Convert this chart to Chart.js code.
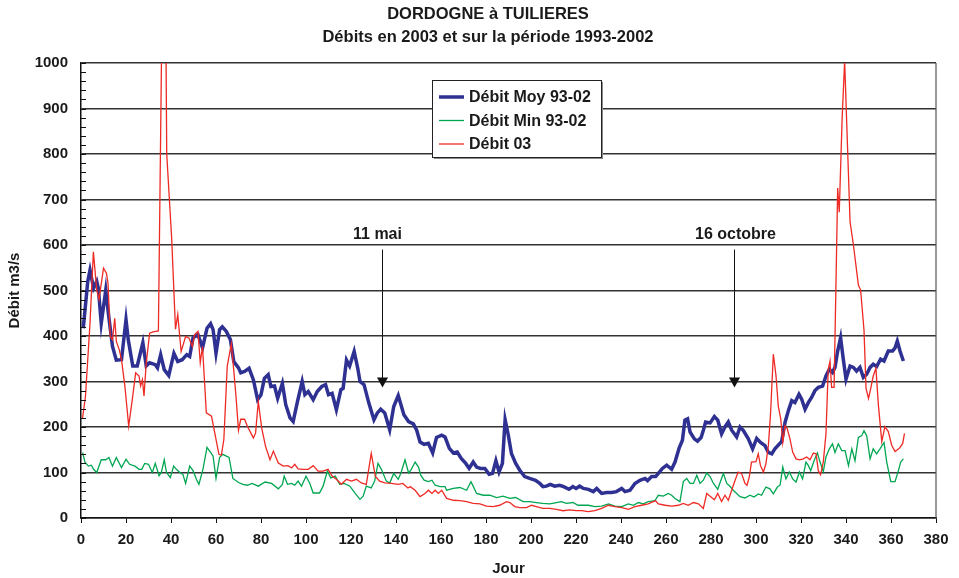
<!DOCTYPE html>
<html><head><meta charset="utf-8">
<script src="https://cdn.jsdelivr.net/npm/chart.js@4/dist/chart.umd.min.js"></script>
<style>html,body{margin:0;padding:0;background:#fff;overflow:hidden}#wrap{width:959px;height:578px}</style>
</head><body><div id="wrap"><canvas id="c" width="959" height="578"></canvas></div>
<script>
const chartTitle = ['DORDOGNE à TUILIERES', 'Débits en 2003 et sur la période 1993-2002'];
const xTitle = 'Jour';
const yTitle = 'Débit m3/s';
const seriesNames = ['Débit Moy 93-02', 'Débit Min 93-02', 'Débit 03'];
const xTickMin = 0, xTickMax = 380, xTickStep = 20;
const yTickMin = 0, yTickMax = 1000, yTickStep = 100;
const annotDays = [133.8, 290];
const annotLabels = ['11 mai', '16 octobre'];

const moyDays = [1,3,4,5.6,7,7.7,9,11,12.4,14,
15.7,18,20,21,23,25,27.5,29,30.5,33,
34,35.4,37,39,41.3,43,45,47,48.3,49.8,
52,54,56,57.6,58.7,60,61.6,62.8,64.6,66.4,
67.9,70,71,72.7,74.7,76.6,78.5,80,81.5,83.2,
84.4,86,87.4,89.5,91,92.9,94.3,96.2,98.3,99.5,
101,103.2,105,107,108.7,110,111.6,113.5,115.5,116.5,
118,119.4,121.4,123,124,125.8,127.9,130.2,131.7,133.2,
135,137.2,139,141,143.5,145.6,147.7,149.2,150.7,152.5,
154.4,156.3,158,160.3,161.8,163.7,165.5,167.2,169,171,
172.5,174.3,175.8,177.6,179.5,181.4,182.9,184.4,185.8,187.3,
188.5,189.8,191.3,193.2,195,197.2,199.4,202,203.9,205.3,
206.8,208.6,210.5,212.7,214.5,216.9,218.6,220,221.6,223.3,
225.5,227.7,229.2,231.4,233.6,235.9,238,240.3,241.8,244,
246.2,248.4,250.7,251.8,253.6,255.4,256.6,258.4,260.3,262.5,
264,265.8,267.3,268.4,269.6,270.7,272.6,274,275.6,276.6,
277.6,279.6,281.5,283,284.7,286.2,287.7,289.2,291.4,292.9,
294.4,296.6,298.5,300.3,302,304,305.5,307,308.4,310.4,
311.4,312.9,314.4,315.9,317.3,319.1,320.3,321.8,323.3,324.7,
326.2,327.7,329.6,331.1,332.6,334,335.1,336.3,337.6,338.8,
340,341.8,343.3,344.7,346.2,347.7,349.2,350.7,352.1,353.6,
355.4,356.9,358.8,360.7,361.8,362.8,364,365.5];
const moyValues = [417,520,545,505,520,505,428,501,440,377,
347,348,436,392,334,334,385,334,341,337,
330,359,326,313,362,344,348,359,355,396,
403,374,417,427,414,362,414,420,410,392,
344,330,319,322,329,304,260,271,307,315,
289,290,263,296,249,220,212,256,300,271,
278,260,278,289,293,271,274,238,282,285,
347,334,366,329,300,293,253,216,231,239,
231,194,245,269,227,212,207,193,167,162,
164,143,177,182,178,153,143,145,131,120,
109,123,112,109,109,96,98,126,101,120,
216,185,142,120,105,91,87,83,76,69,
70,74,70,72,69,63,69,65,70,65,
63,58,65,54,56,56,58,65,58,61,
76,83,87,82,91,91,98,109,116,107,
123,153,171,215,218,189,174,169,177,193,
211,209,223,215,185,200,211,193,178,200,
192,174,152,175,166,159,144,141,152,163,
168,210,236,258,254,272,261,239,254,265,
280,287,290,312,327,320,331,367,396,349,
305,334,331,323,331,309,316,331,338,333,
349,345,367,367,374,389,367,345];

const minDays = [0.7,1.8,3.3,4.6,5.6,7,9,11,12.4,14,
15.7,18,20,21.6,24,25.8,27,28.3,30,31.7,
33,34.7,35.7,37,38,39.7,41.2,42.4,43.9,45.3,
46.5,48.3,49.8,51.3,52.4,54.2,56,57.6,58.7,60,
61.6,63,64.6,65.8,67.5,70,72,74,76,78.8,
81.8,84.7,87.7,89.5,90.3,91.8,93.6,95,96.5,98,
100,101.7,103.2,106,107.6,109.5,111,113,115,117,
119.5,121.7,124,125.4,126.8,129,130.5,132,133.5,135.7,
137.2,139,141,142.2,144,145.6,146.8,148.5,150,151,
152.5,154.4,156,157.4,159.6,161.8,162.5,165.5,168.4,171.4,
173.3,174.3,175.8,178.8,181.7,184.7,187.6,190.6,193.2,196.5,
199.4,202.4,205.3,208.3,211.3,213.5,215.7,218.6,220.9,222.5,
225.5,228.4,231.4,234.4,237.3,240.3,243.3,245.5,247.7,249.9,
252.1,255.1,256.6,258.8,261,262.5,264,266.2,267.7,269.2,
270.7,272.2,273.7,275.1,276.6,278.1,279.6,281.1,283,284.4,
285.5,287,288.4,289.9,291.4,292.9,295.1,297.3,299.1,301,
302.5,304.4,306.2,307.7,309.5,310.7,311.9,313.3,314.8,316.3,
317.8,319.3,320.7,322.2,323.3,324.3,325.8,327.3,328.4,329.9,
331.1,332.6,334,335.1,336.6,338.1,339.6,341.1,342.6,344,
345.5,347,348,349.2,350.7,352.1,353.6,355.1,356.9,358.1,
359.9,361.8,363.3,364.3,365.5];
const minValues = [144,122,114,116,107,100,128,128,133,114,
133,111,129,118,114,107,107,120,118,100,
120,93,100,128,100,89,114,107,100,96,
76,114,104,85,74,107,155,144,136,87,
133,140,136,133,87,78,74,72,76,70,
79,76,64,74,92,74,76,72,81,70,
92,76,55,55,70,103,88,92,74,76,
70,55,41,48,70,66,81,120,107,81,
77,98,85,99,128,99,107,123,112,94,
83,80,83,72,69,69,61,65,67,61,
80,70,54,50,50,45,48,43,45,36,
36,34,32,31,34,36,32,34,28,28,
28,25,26,31,26,25,31,28,34,31,
36,38,50,48,54,50,43,36,80,87,
76,76,94,76,83,99,91,76,63,83,
98,76,70,61,54,47,44,50,46,53,
50,68,64,53,68,72,112,86,101,86,
79,101,86,123,115,104,126,143,124,102,
134,152,163,144,163,148,148,115,152,126,
177,181,192,181,130,152,141,152,166,123,
80,80,104,123,130];

const y03Days = [0.7,2,4,5.5,7,8,10,11.3,12,13,
14,15,15.7,17,18,19.5,21.2,23,24.3,25.8,
26.5,27.3,28,29,30.5,32,34.4,36.1,37.6,38.1,
40.3,42,43,44.5,46.5,48,49.5,50.5,52,53,
54,55.7,58,59.4,61.3,62.4,63.5,65,66.8,68,
69,70,71,72.7,74,76.6,77.6,78.8,80.3,82,
84,85.5,87.7,89.9,92,93.6,95,96.5,98.7,101,
103.2,105.4,107.6,109.8,111.6,113.5,115.7,118,120.2,122.4,
124.6,126.8,129,130.8,132.7,135,138,141,143,145.3,
146.3,148.5,150.7,152.9,154.4,156,157.4,158.8,160.3,162.5,
165.5,168.4,171.4,174.3,177.3,180.2,183.2,186.1,189.1,190.6,
192.8,195,198,200.2,202.4,205.3,208.3,211.3,214.2,217.2,
220.1,222.5,225.5,228.4,231.4,234.4,237.3,240.3,243.3,246.2,
249.2,252.1,254.4,255.4,256.6,259.6,262.5,265.5,267.7,269.9,
272.2,274.4,276.6,278.1,279.6,281.5,283,284.7,286.2,287.7,
289.2,290.7,292.1,293.6,295.1,296,297,298,300,301,
302,303.3,304.4,305.5,306.5,307.7,308.9,309.9,311,311.9,
312.9,313.9,315.1,316.3,317.8,319.3,321,322.5,324,325.5,
326.7,327.7,328.7,329.9,331.1,332.1,332.9,333.6,334.7,335.5,
336.3,337,338.3,339.4,340.3,341.8,343.3,345.5,346.5,348,
348.9,350,351,352.1,353.3,354.4,355.9,357.3,358.8,360.3,
361.8,363.7,365.2,366];
const y03Values = [220,268,428,585,501,480,549,538,516,399,
392,439,388,370,348,290,202,268,319,312,
290,304,268,341,406,409,411,1150,1150,800,
615,415,447,366,399,395,377,403,410,341,
377,231,224,188,140,138,173,334,383,319,
260,193,217,217,201,176,187,256,198,158,
128,147,121,114,115,110,118,108,107,107,
115,103,103,107,92,85,74,85,81,85,
77,74,142,92,81,77,76,74,76,66,
69,61,47,54,61,54,61,54,61,43,
39,38,36,32,31,26,25,28,36,34,
25,23,23,28,25,21,21,19,16,18,
16,16,14,16,21,28,25,23,19,25,
28,31,36,38,31,28,26,28,32,28,
34,31,21,54,48,40,54,36,50,39,
61,83,101,98,76,72,90,123,124,141,
115,101,119,159,232,360,312,246,218,166,
203,196,174,145,130,128,130,134,128,143,
141,104,95,123,185,327,345,287,287,502,
725,672,880,1005,871,651,600,512,501,413,
285,263,285,312,329,248,168,201,190,160,
146,153,164,186];

const toPts = (d, v) => d.map((x, i) => ({x: x, y: v[i]}));
const FONT = '"Liberation Sans", Arial, Helvetica, sans-serif';

const titlePlugin = {
  id: 'titleText',
  afterDraw(chart) {
    const ctx = chart.ctx;
    ctx.save();
    ctx.font = 'bold 16.5px ' + FONT;
    ctx.fillStyle = '#1a1a1a';
    ctx.textAlign = 'center'; ctx.textBaseline = 'middle';
    ctx.fillText(chartTitle[0], 488, 14);
    ctx.fillText(chartTitle[1], 488, 37);
    ctx.restore();
  }
};

const minorTicks = {
  id: 'minorTicks',
  afterDatasetsDraw(chart) {
    const {ctx, chartArea: a, scales: {y}} = chart;
    ctx.save();
    ctx.strokeStyle = '#111'; ctx.lineWidth = 1;
    for (let v = yTickMin; v <= yTickMax; v += 20) {
      const py = Math.round(y.getPixelForValue(v)) + 0.5;
      ctx.beginPath(); ctx.moveTo(a.left, py); ctx.lineTo(a.left + 5, py); ctx.stroke();
    }
    ctx.strokeStyle = '#555'; ctx.lineWidth = 1.2;
    ctx.beginPath(); ctx.moveTo(a.right, a.top); ctx.lineTo(a.right, a.bottom); ctx.stroke();
    ctx.restore();
  }
};

const arrows = {
  id: 'arrows',
  afterDatasetsDraw(chart) {
    const {ctx, scales: {x, y}} = chart;
    const dx = [-5, 1];
    ctx.save();
    annotDays.forEach((d, i) => {
      const px = Math.round(x.getPixelForValue(d)) + 0.5;
      const yTop = y.getPixelForValue(590), yTip = y.getPixelForValue(287);
      ctx.strokeStyle = '#111'; ctx.lineWidth = 1;
      ctx.beginPath(); ctx.moveTo(px, yTop); ctx.lineTo(px, yTip - 8); ctx.stroke();
      ctx.fillStyle = '#111';
      ctx.beginPath(); ctx.moveTo(px - 5.5, yTip - 10); ctx.lineTo(px + 5.5, yTip - 10); ctx.lineTo(px, yTip); ctx.closePath(); ctx.fill();
      ctx.font = 'bold 16px ' + FONT;
      ctx.textAlign = 'center'; ctx.textBaseline = 'middle';
      ctx.fillStyle = '#1a1a1a';
      ctx.fillText(annotLabels[i], px + dx[i], yTop - 15);
    });
    ctx.restore();
  }
};

const legendBox = {
  id: 'legendBox',
  afterDatasetsDraw(chart) {
    const {ctx, chartArea: a} = chart;
    const bx = a.left + 351, by = a.top + 17, bw = 169, bh = 77;
    ctx.save();
    ctx.fillStyle = '#8a8a8a'; ctx.fillRect(bx + 2, by + 2, bw, bh);
    ctx.fillStyle = '#fff'; ctx.fillRect(bx, by, bw, bh);
    ctx.strokeStyle = '#222'; ctx.lineWidth = 1; ctx.strokeRect(bx + 0.5, by + 0.5, bw, bh);
    ctx.font = 'bold 16px ' + FONT;
    ctx.textAlign = 'left'; ctx.textBaseline = 'middle';
    chart.data.datasets.forEach((ds, i) => {
      const cy = by + 17 + i * 23.5;
      ctx.strokeStyle = ds.borderColor; ctx.lineWidth = ds.borderWidth;
      ctx.beginPath(); ctx.moveTo(bx + 7, cy); ctx.lineTo(bx + 32, cy); ctx.stroke();
      ctx.fillStyle = '#1a1a1a';
      ctx.fillText(ds.label, bx + 37, cy + 1);
    });
    ctx.restore();
  }
};

new Chart(document.getElementById('c'), {
  type: 'line',
  data: {
    datasets: [
      {label: seriesNames[0], data: toPts(moyDays, moyValues), borderColor: '#2E3192', borderWidth: 3.5, order: 2},
      {label: seriesNames[1], data: toPts(minDays, minValues), borderColor: '#00A651', borderWidth: 1.3, order: 1},
      {label: seriesNames[2], data: toPts(y03Days, y03Values), borderColor: '#EE2A24', borderWidth: 1.3, order: 0}
    ]
  },
  options: {
    responsive: false,
    animation: false,
    devicePixelRatio: 1,
    layout: {padding: {left: 0, right: 23, top: 63, bottom: 0}},
    elements: {point: {radius: 0}, line: {tension: 0, fill: false}},
    plugins: {
      legend: {display: false},
      tooltip: {enabled: false},
      title: {display: false}
    },
    scales: {
      x: {
        type: 'linear', min: xTickMin, max: xTickMax,
        afterFit: s => { s.height = 60; },
        ticks: {stepSize: xTickStep, color: '#1a1a1a', padding: 8, maxRotation: 0,
          callback: v => String(v),
          font: {family: FONT, size: 15, weight: 'bold'}},
        grid: {drawOnChartArea: false, drawTicks: true, tickLength: 5, color: '#111', lineWidth: 1},
        border: {display: true, color: '#111', width: 1.5},
        title: {display: true, text: xTitle, color: '#1a1a1a', padding: {top: 0, bottom: 0},
          font: {family: FONT, size: 15, weight: 'bold'}}
      },
      y: {
        min: yTickMin, max: yTickMax,
        afterFit: s => { s.width = 81; },
        ticks: {stepSize: yTickStep, color: '#1a1a1a', padding: 13,
          callback: v => String(v),
          font: {family: FONT, size: 15, weight: 'bold'}},
        grid: {drawTicks: false, color: '#333', lineWidth: 1.5},
        border: {display: true, color: '#111', width: 1.5},
        title: {display: true, text: yTitle, color: '#1a1a1a', padding: {top: 6, bottom: 0},
          font: {family: FONT, size: 15, weight: 'bold'}}
      }
    }
  },
  plugins: [minorTicks, legendBox, arrows, titlePlugin]
});
</script></body></html>
